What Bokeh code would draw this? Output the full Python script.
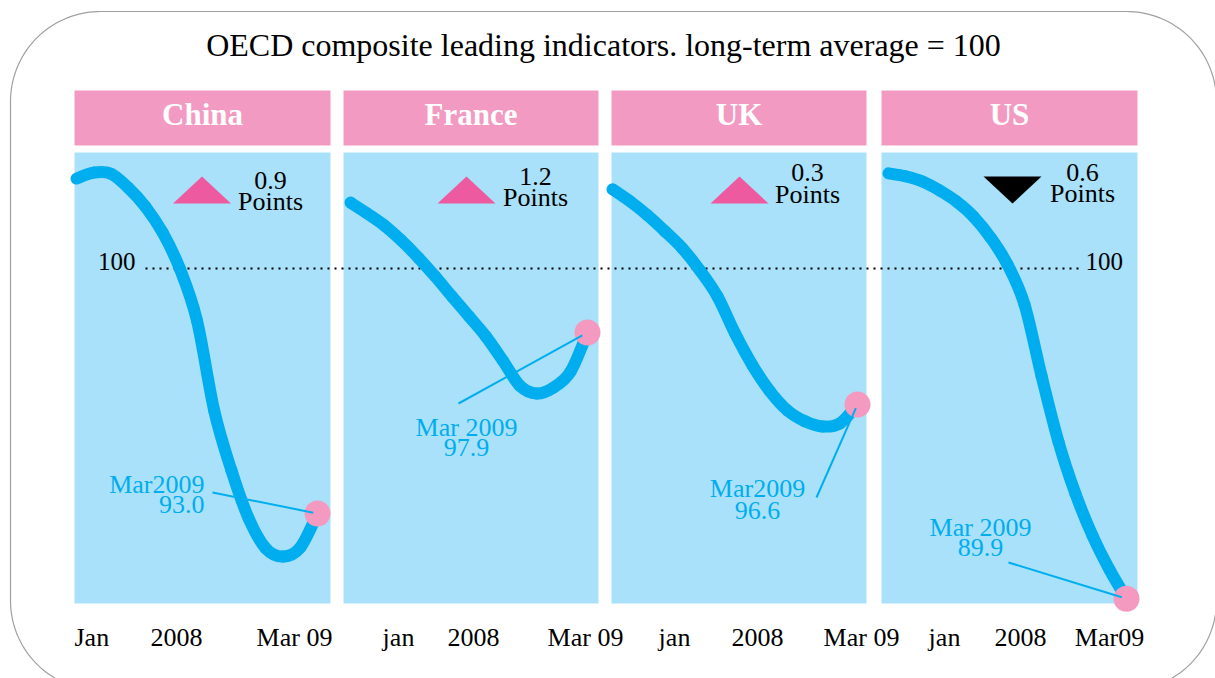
import numpy as np
from bokeh.plotting import figure
from bokeh.models import Range1d
from bokeh.core.properties import value
from bokeh.embed import file_html
from bokeh.resources import INLINE

# ---------------- data ----------------
title = "OECD composite leading indicators. long-term average = 100"
countries = ["China", "France", "UK", "US"]
months = ["Jan 2008", "Feb 2008", "Mar 2008", "Apr 2008", "May 2008", "Jun 2008",
          "Jul 2008", "Aug 2008", "Sep 2008", "Oct 2008", "Nov 2008", "Dec 2008",
          "Jan 2009", "Feb 2009", "Mar 2009"]
china = [102.57, 102.74, 102.71, 102.31, 101.77, 101.03, 100.00, 98.51, 95.94, 94.23, 92.86, 92.00, 91.77, 92.03, 93.0]
france = [102.16, 101.80, 101.41, 100.92, 100.36, 99.74, 99.08, 98.43, 97.77, 96.98, 96.16, 95.90, 96.10, 96.62, 97.9]
uk = [101.98, 101.68, 101.33, 100.93, 100.50, 99.95, 99.30, 98.38, 97.58, 96.93, 96.45, 96.18, 96.05, 96.13, 96.6]
us = [102.91, 102.82, 102.66, 102.39, 102.05, 101.59, 100.95, 100.12, 98.90, 96.72, 94.70, 93.11, 91.83, 90.79, 89.9]
series = [china, france, uk, us]
changes = ["0.9", "1.2", "0.3", "0.6"]
change_dir = ["up", "up", "up", "down"]
latest_labels = ["Mar2009", "Mar 2009", "Mar2009", "Mar 2009"]
tick_labels = [["Jan", "2008", "Mar 09"], ["jan", "2008", "Mar 09"],
               ["jan", "2008", "Mar 09"], ["jan", "2008", "Mar09"]]
baseline = 100

# ---------------- layout / style ----------------
OFF, W, H = 0, 1215, 678
SERIF = value("Liberation Serif")
HEADER_C = "#F39AC2"
PANEL_C = "#A8E1F9"
CURVE_C = "#00AEEF"
DOT_C = "#F49AC1"
TRI_C = "#EE5AA0"

panel_x = [(74, 330), (343, 598), (611, 866), (881, 1137)]
panel_top, panel_bot = 152, 603
head_top, head_bot = 90, 145
t_start = [76, 350, 612, 888]
t_end = [317, 587, 857, 1126]
px_per_unit = [35.0, 30.5, 40.0, 32.7]
base_y = 268

p = figure(width=W, height=H, x_range=Range1d(OFF, OFF + W), y_range=Range1d(OFF + H, OFF),
           output_backend="svg", toolbar_location=None, min_border=0,
           x_axis_location=None, y_axis_location=None)
p.grid.visible = False
p.outline_line_color = None
p.background_fill_color = "white"
p.border_fill_color = "white"

# rounded border
def rounded(x0, y0, x1, y1, r):
    xs, ys = [], []
    for cx, cy, a0 in [(x1 - r, y0 + r, -90), (x1 - r, y1 - r, 0), (x0 + r, y1 - r, 90), (x0 + r, y0 + r, 180)]:
        a = np.radians(np.linspace(a0, a0 + 90, 40))
        xs += list(cx + r * np.cos(a))
        ys += list(cy + r * np.sin(a))
    xs.append(xs[0]); ys.append(ys[0])
    return xs, ys

bx, by = rounded(10, 11, 1216, 690, 90)
p.line(bx, by, line_color="#A0A0A0", line_width=1.2)

p.text(x=[603], y=[44], text=[title], text_font=SERIF, text_font_size="32px",
       text_align="center", text_baseline="alphabetic", text_color="black")

for i, (xl, xr) in enumerate(panel_x):
    k = (t_end[i] - t_start[i]) / (len(months) - 1)
    xs0 = -(t_start[i] - OFF) / k
    s = px_per_unit[i]
    p.extra_x_ranges[f"x{i}"] = Range1d(xs0, xs0 + W / k)
    p.extra_y_ranges[f"y{i}"] = Range1d(baseline - (OFF + H - base_y) / s, baseline + (base_y - OFF) / s)

p.quad(left=[a for a, b in panel_x], right=[b for a, b in panel_x],
       top=[head_top] * 4, bottom=[head_bot] * 4, fill_color=HEADER_C, line_color=None)
p.quad(left=[a for a, b in panel_x], right=[b for a, b in panel_x],
       top=[panel_top] * 4, bottom=[panel_bot] * 4, fill_color=PANEL_C, line_color=None)
p.text(x=[(a + b) / 2 for a, b in panel_x], y=[114] * 4, text=countries, text_font=SERIF,
       text_font_size="31px", text_font_style="bold", text_color="white",
       text_align="center", text_baseline="alphabetic")

# dotted 100 line (all panels place 100 at the same height)
p.line(x=[145, 1081], y=[baseline, baseline], y_range_name="y0", line_color="black",
       line_width=2, line_dash="2 5")
p.text(x=[135, 1085], y=[261, 261], text=[str(baseline), str(baseline)], text_font=SERIF,
       text_font_size="25px", text_align=["right", "left"], text_baseline="alphabetic",
       text_color="black")

# smooth curves (Catmull-Rom rendered as cubic Bezier segments through the monthly values)
mi = list(range(len(months)))
for i, ser in enumerate(series):
    n = len(ser)
    x0s, y0s, x1s, y1s, cx0, cy0, cx1, cy1 = [], [], [], [], [], [], [], []
    for j in range(n - 1):
        pa = (mi[max(j - 1, 0)], ser[max(j - 1, 0)])
        pb = (mi[j], ser[j])
        pc = (mi[j + 1], ser[j + 1])
        pd = (mi[min(j + 2, n - 1)], ser[min(j + 2, n - 1)])
        x0s.append(pb[0]); y0s.append(pb[1]); x1s.append(pc[0]); y1s.append(pc[1])
        cx0.append(pb[0] + (pc[0] - pa[0]) / 6); cy0.append(pb[1] + (pc[1] - pa[1]) / 6)
        cx1.append(pc[0] - (pd[0] - pb[0]) / 6); cy1.append(pc[1] - (pd[1] - pb[1]) / 6)
    p.bezier(x0=x0s, y0=y0s, x1=x1s, y1=y1s, cx0=cx0, cy0=cy0, cx1=cx1, cy1=cy1,
             x_range_name=f"x{i}", y_range_name=f"y{i}", line_color=CURVE_C,
             line_width=12, line_cap="round")
    p.scatter(x=[mi[-1]], y=[ser[-1]], x_range_name=f"x{i}", y_range_name=f"y{i}",
              size=26, fill_color=DOT_C, line_color=None)

# leaders and annotations
lead_from = [(212, 492), (458, 403), (816, 497), (1008, 562)]
for i, ser in enumerate(series):
    dx = t_end[i]
    dy = base_y + (baseline - ser[-1]) * px_per_unit[i]
    fx, fy = lead_from[i]
    ex = fx + (dx - fx) * 0.96
    ey = fy + (dy - fy) * 0.96
    p.line(x=[fx, ex], y=[fy, ey], line_color=CURVE_C, line_width=2)

ann_x = [204, 466, 757, 980]
ann_align = ["right", "center", "center", "center"]
ann_y1 = [484, 427, 488, 527]
ann_y2 = [504, 447, 510, 547]
p.text(x=ann_x, y=ann_y1, text=latest_labels, text_font=SERIF, text_font_size="26px",
       text_align=ann_align, text_baseline="alphabetic", text_color=CURVE_C)
p.text(x=ann_x, y=ann_y2, text=[f"{s[-1]:.1f}" for s in series], text_font=SERIF,
       text_font_size="26px", text_align=ann_align, text_baseline="alphabetic", text_color=CURVE_C)

# change indicators
tri_cx = [201.5, 466, 739, 1012]
tri_top, tri_bot, tri_hw = 176, 203, 29
txs, tys, tcs = [], [], []
for i, d in enumerate(change_dir):
    cx = tri_cx[i]
    if d == "up":
        txs.append([cx - tri_hw, cx + tri_hw, cx]); tys.append([tri_bot, tri_bot, tri_top]); tcs.append(TRI_C)
    else:
        txs.append([cx - tri_hw, cx + tri_hw, cx]); tys.append([tri_top, tri_top, tri_bot]); tcs.append("black")
p.patches(xs=txs, ys=tys, fill_color=tcs, line_color=None)

ch_x = [270, 535, 807, 1082]
ch_y1 = [180, 176, 172, 172]
ch_y2 = [201, 197, 194, 193]
p.text(x=ch_x, y=ch_y1, text=changes, text_font=SERIF, text_font_size="26px",
       text_align="center", text_baseline="alphabetic", text_color="black")
p.text(x=ch_x, y=ch_y2, text=["Points"] * 4, text_font=SERIF, text_font_size="26px",
       text_align="center", text_baseline="alphabetic", text_color="black")

# bottom tick labels
tick_x = [[74, 176, 294], [398, 473, 585], [674, 757, 861], [944, 1020, 1109]]
lx, ly, lt, la = [], [], [], []
for i in range(4):
    for j in range(3):
        lx.append(tick_x[i][j]); ly.append(637); lt.append(tick_labels[i][j])
        la.append("left" if (i == 0 and j == 0) else "center")
p.text(x=lx, y=ly, text=lt, text_font=SERIF, text_font_size="26px", text_align=la,
       text_baseline="alphabetic", text_color="black")

open("out.html", "w").write(file_html(p, INLINE))
